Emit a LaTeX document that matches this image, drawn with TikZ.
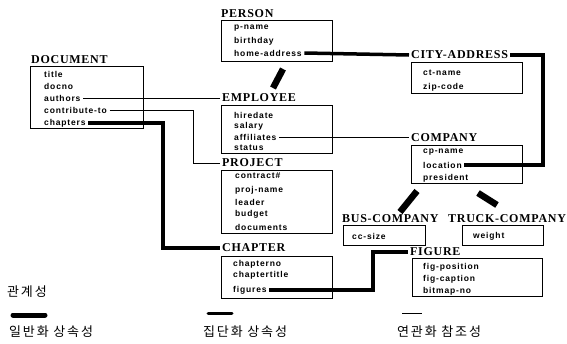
\documentclass[tikz,border=0pt]{standalone}
\usepackage{fontspec}
\setmainfont{Liberation Serif}
\setsansfont{Liberation Sans}
\newfontfamily\kofont[LetterSpace=14]{Noto Sans CJK KR}
\newfontfamily\labelfont[LetterSpace=6]{Liberation Serif}
\newfontfamily\attrfont[LetterSpace=10]{Liberation Sans}
\tikzset{
    entity/.style={
        anchor=west,
        inner sep=2pt,
        font=\labelfont\bfseries\fontsize{12}{14}\selectfont
    },
    box/.style={
        draw,
        line width=0.6pt,
        anchor=north west,
        inner sep=0pt
    },
    attr/.style={
        anchor=west,
        inner sep=2.5pt,
        font=\attrfont\bfseries\fontsize{8.5}{10}\selectfont
    },
    assoc/.style={line width=0.7pt},
    aggr/.style={line width=3.5pt},
    gen/.style={line width=6.5pt},
    legend/.style={
        anchor=west,
        inner sep=0pt,
        font=\kofont\fontsize{13}{15}\selectfont
    }
}

\begin{document}
\begin{tikzpicture}[x=1pt,y=-1pt]
\useasboundingbox (0,0) rectangle (567,343);

% entities
\node[entity] (document) at (29,60) {DOCUMENT};
\node[box, minimum width=113pt, minimum height=62pt] (docbox) at (30,66) {};
\foreach \n/\t/\y in {title/title/74, docno/docno/86, authors/authors/98, contrib/contribute-to/110, chapters/chapters/123}
    \node[attr] (\n) at (41.5,\y) {\t};

\node[entity] (person) at (219,14) {PERSON};
\node[box, minimum width=111pt, minimum height=41pt] (personbox) at (221,20) {};
\foreach \n/\t/\y in {pname/p-name/28, birthday/birthday/41, homeaddr/home-address/53}
    \node[attr] (\n) at (231.5,\y) {\t};

\node[entity] (employee) at (220,98) {EMPLOYEE};
\node[box, minimum width=111pt, minimum height=48pt] (employeebox) at (221,105) {};
\foreach \n/\t/\y in {hiredate/hiredate/115, salary/salary/126, affiliates/affiliates/137, status/status/148}
    \node[attr] (\n) at (231.5,\y) {\t};

\node[entity] (project) at (220,163) {PROJECT};
\node[box, minimum width=111pt, minimum height=63pt] (projectbox) at (221,170) {};
\foreach \n/\t/\y in {contract/contract\#/176, projname/proj-name/190, leader/leader/202, budget/budget/214, documents/documents/227}
    \node[attr] (\n) at (232.5,\y) {\t};

\node[entity] (chapter) at (220,248) {CHAPTER};
\node[box, minimum width=111pt, minimum height=42pt] (chapterbox) at (221,256) {};
\foreach \n/\t/\y in {chapterno/chapterno/264, chaptertitle/chaptertitle/275, figures/figures/290}
    \node[attr] (\n) at (230.5,\y) {\t};

\node[entity] (cityaddr) at (409,55) {CITY-ADDRESS};
\node[box, minimum width=111pt, minimum height=31pt] (cityaddrbox) at (411,62) {};
\foreach \n/\t/\y in {ctname/ct-name/73, zipcode/zip-code/87}
    \node[attr] (\n) at (420.5,\y) {\t};

\node[entity] (company) at (409,138) {COMPANY};
\node[box, minimum width=111pt, minimum height=38pt] (companybox) at (411,145) {};
\foreach \n/\t/\y in {cpname/cp-name/152, location/location/165, president/president/178}
    \node[attr] (\n) at (420.5,\y) {\t};

\node[entity] (buscompany) at (340,219) {BUS-COMPANY};
\node[box, minimum width=82pt, minimum height=20pt] (buscompanybox) at (343,225) {};
\node[attr] (ccsize) at (349.5,236) {cc-size};

\node[entity] (truckcompany) at (446,219) {TRUCK-COMPANY};
\node[box, minimum width=81pt, minimum height=20pt] (truckcompanybox) at (462,225) {};
\node[attr] (weight) at (470.5,236) {weight};

\node[entity] (figure) at (408,252) {FIGURE};
\node[box, minimum width=130pt, minimum height=38pt] (figurebox) at (412,258) {};
\foreach \n/\t/\y in {figposition/fig-position/267, figcaption/fig-caption/279, bitmapno/bitmap-no/291}
    \node[attr] (\n) at (420.5,\y) {\t};

% bends
\coordinate (contribbend) at (193,163);
\coordinate (chaptersbend) at (163,248);
\coordinate (locationbend) at (543,55);
\coordinate (figuresbend) at (373,252);

% association
\draw[assoc] (authors.east) -- (employee.west);
\draw[assoc] (contrib.east) -| (contribbend) -- (project.west);
\draw[assoc] (affiliates.east) -- (company.west |- affiliates.east);

% aggregation
\draw[aggr] (chapters.east) -| (chaptersbend) -- (chapter.west);
\draw[aggr] (homeaddr.east) -- (cityaddr.west);
\draw[aggr] (location.east) -| (locationbend) -- (cityaddr.east);
\draw[aggr] (figures.east) -| (figuresbend) -- (figure.west);

% generalization
\coordinate (g1a) at (283,69);
\coordinate (g1b) at (273,88);
\coordinate (g2a) at (417,191);
\coordinate (g2b) at (400,212);
\coordinate (g3a) at (478,193);
\coordinate (g3b) at (497,205);
\draw[gen] (g1a) -- (g1b);
\draw[gen] (g2a) -- (g2b);
\draw[gen] (g3a) -- (g3b);

% legend
\node[legend] (legendtitle) at (7,292) {관계성};
\coordinate (l1a) at (13,315);
\coordinate (l1b) at (45,315);
\coordinate (l2a) at (208,313);
\coordinate (l2b) at (232,313);
\coordinate (l3a) at (402,313);
\coordinate (l3b) at (422,313);
\draw[line width=5pt, line cap=round] (l1a) -- (l1b);
\draw[line width=3pt, line cap=round] (l2a) -- (l2b);
\draw[assoc] (l3a) -- (l3b);
\node[legend] (legendgen) at (9,332) {일반화 상속성};
\node[legend] (legendaggr) at (203,332) {집단화 상속성};
\node[legend] (legendassoc) at (397,332) {연관화 참조성};

\end{tikzpicture}
\end{document}
